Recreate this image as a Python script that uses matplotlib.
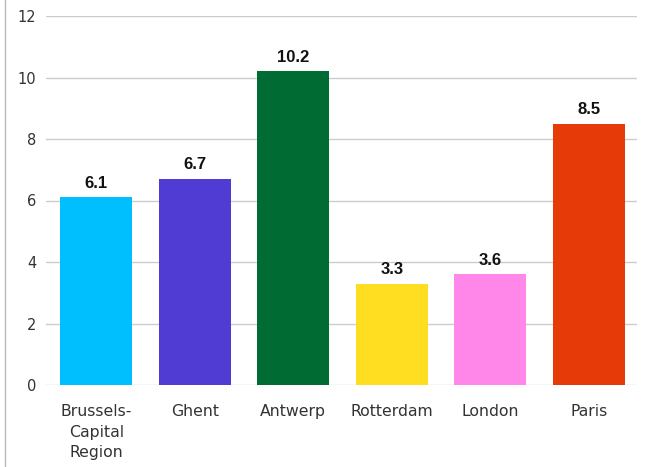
import matplotlib
matplotlib.use("Agg")
import matplotlib.pyplot as plt
from matplotlib.lines import Line2D

categories = ["Brussels-\nCapital\nRegion", "Ghent", "Antwerp", "Rotterdam", "London", "Paris"]
values = [6.1, 6.7, 10.2, 3.3, 3.6, 8.5]
colors = ["#00BFFF", "#503BD3", "#006B33", "#FFDE21", "#FF87E9", "#E73A09"]
yticks = [0, 2, 4, 6, 8, 10, 12]

fig = plt.figure(figsize=(6.47, 4.67), dpi=100)
ax = fig.add_axes([46 / 647, 1 - 385 / 467, (637 - 46) / 647, (385 - 16) / 467])

x = range(len(categories))
bars = ax.bar(x, values, width=0.73, color=colors, zorder=3)
for xi, v in zip(x, values):
    ax.text(xi, v + 0.22, f"{v:.1f}", ha="center", va="bottom",
            fontsize=12, fontweight="bold", family="Liberation Sans", color="#111111")

ax.set_ylim(0, 12)
ax.set_xlim(-0.51, 5.49)
ax.set_yticks(yticks)
ax.set_yticklabels([str(t) for t in yticks], family="DejaVu Sans", fontsize=10.5, color="#333333")
ax.set_xticks(list(x))
ax.set_xticklabels(categories, family="DejaVu Sans", fontsize=11.3, color="#333333", linespacing=1.45)
ax.tick_params(axis="both", length=0)
ax.tick_params(axis="y", pad=7)
ax.tick_params(axis="x", pad=14)
ax.grid(axis="y", color="#CCCCCC", linewidth=1.0, zorder=0)
for s in ax.spines.values():
    s.set_visible(False)

fig.add_artist(Line2D([4.5 / 647, 4.5 / 647], [0, 1], transform=fig.transFigure,
                      color="#BBBBBB", linewidth=1.0))

fig.savefig("out.png", dpi=100)
